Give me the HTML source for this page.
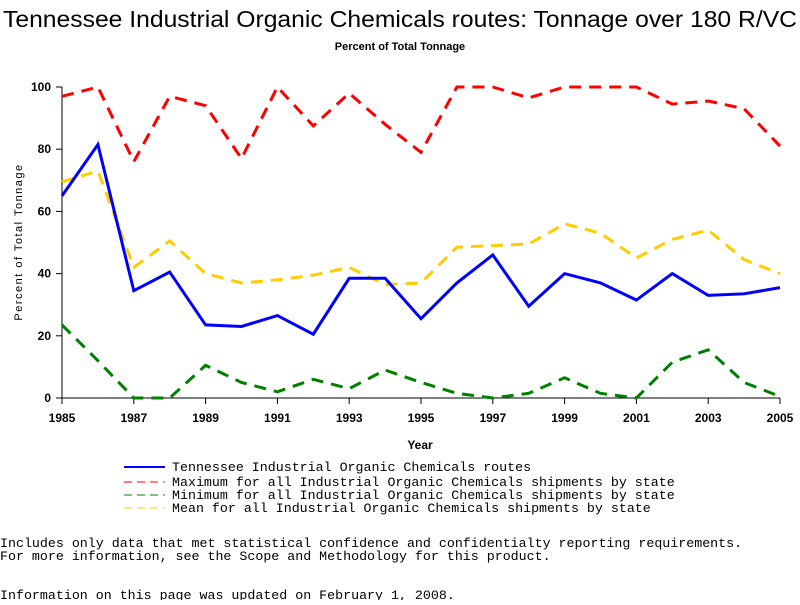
<!DOCTYPE html>
<html><head><meta charset="utf-8"><style>
body{margin:0;background:#fff;width:800px;height:600px;overflow:hidden}
svg text{font-family:"Liberation Sans",sans-serif}
.m{font-family:"Liberation Mono",monospace;font-size:13.3px}
</style></head><body>
<svg width="800" height="600">
<text x="400" y="27" text-anchor="middle" font-size="23" textLength="794" lengthAdjust="spacingAndGlyphs">Tennessee Industrial Organic Chemicals routes: Tonnage over 180 R/VC</text>
<text x="400" y="50" text-anchor="middle" font-size="11" font-weight="bold">Percent of Total Tonnage</text>
<g id="axes"></g>
<g id="series"></g>
<text x="420" y="449" text-anchor="middle" font-size="12" font-weight="bold">Year</text>
<text transform="translate(22,242) rotate(-90)" text-anchor="middle" font-size="11" letter-spacing="1.5">Percent of Total Tonnage</text>
<g>
<line x1="124" y1="467" x2="165" y2="467" stroke="#0000ff" stroke-width="2"/>
<text class="m" x="172" y="471">Tennessee Industrial Organic Chemicals routes</text>
<line x1="124" y1="482" x2="165" y2="482" stroke="#ff0000" stroke-dasharray="8,5"/>
<text class="m" x="172" y="486">Maximum for all Industrial Organic Chemicals shipments by state</text>
<line x1="124" y1="495" x2="165" y2="495" stroke="#008000" stroke-dasharray="8,5"/>
<text class="m" x="172" y="499">Minimum for all Industrial Organic Chemicals shipments by state</text>
<line x1="124" y1="508" x2="165" y2="508" stroke="#ffcc00" stroke-dasharray="8,5"/>
<text class="m" x="172" y="512">Mean for all Industrial Organic Chemicals shipments by state</text>
</g>
<text class="m" x="0" y="547">Includes only data that met statistical confidence and confidentialty reporting requirements.</text>
<text class="m" x="0" y="560">For more information, see the Scope and Methodology for this product.</text>
<text class="m" x="0" y="599">Information on this page was updated on February 1, 2008.</text>
</svg>
<script>
const years=[1985,1986,1987,1988,1989,1990,1991,1992,1993,1994,1995,1996,1997,1998,1999,2000,2001,2002,2003,2004,2005];
const tennessee=[65,81.5,34.5,40.5,23.5,23,26.5,20.5,38.5,38.5,25.5,37,46,29.5,40,37,31.5,40,33,33.5,35.5];
const maxVals=[97,100,76,97,94,77,100,87.5,98,88,79,100,100,96.5,100,100,100,94.5,95.5,93,81];
const meanVals=[69.5,73,42,50.5,40,37,38,39.5,42,36.5,37,48.5,49,49.5,56,53,45,51,54,44.5,40];
const minVals=[23.5,12,0,0,10.5,5,2,6,3,9,5,1.5,0,1.5,6.5,1.5,0,11.5,15.5,5,0.5];
const xTicks=[1985,1987,1989,1991,1993,1995,1997,1999,2001,2003,2005];
const yTicks=[0,20,40,60,80,100];
const NS="http://www.w3.org/2000/svg";
const X=y=>62+(y-1985)*(718/20);
const Y=v=>398-v*3.11;
function mk(t,a,p){const e=document.createElementNS(NS,t);for(const k in a)e.setAttribute(k,a[k]);p.appendChild(e);return e;}
const ax=document.getElementById('axes');
let l=mk('line',{x1:62,y1:87,x2:62,y2:398,stroke:'#000'},ax);


l=mk('line',{x1:62,y1:398,x2:780,y2:398,stroke:'#000'},ax);


yTicks.forEach(v=>{
 mk('line',{x1:56,x2:62,y1:Y(v),y2:Y(v),stroke:'#000'},ax);
 const t=mk('text',{x:51,y:Y(v)+4,'text-anchor':'end','font-size':12,'font-weight':'bold'},ax);t.textContent=v;
 
 
});
xTicks.forEach(v=>{
 mk('line',{x1:X(v),x2:X(v),y1:398,y2:404,stroke:'#000'},ax);
 const t=mk('text',{x:X(v),y:422,'text-anchor':'middle','font-size':12,'font-weight':'bold'},ax);t.textContent=v;
 
 
});
const sg=document.getElementById('series');
function line(vals,color,dash,name){
 const p=mk('polyline',{points:vals.map((v,i)=>X(years[i])+','+Y(v)).join(' '),fill:'none',stroke:color,'stroke-width':3,'stroke-dasharray':dash},sg);
 
 
}
line(maxVals,'#ff0000','12,8','max-line');
line(meanVals,'#ffcc00','12,8','mean-line');
line(minVals,'#008000','12,8','min-line');
line(tennessee,'#0000ff','none','tennessee-line');
</script>
</body></html>
